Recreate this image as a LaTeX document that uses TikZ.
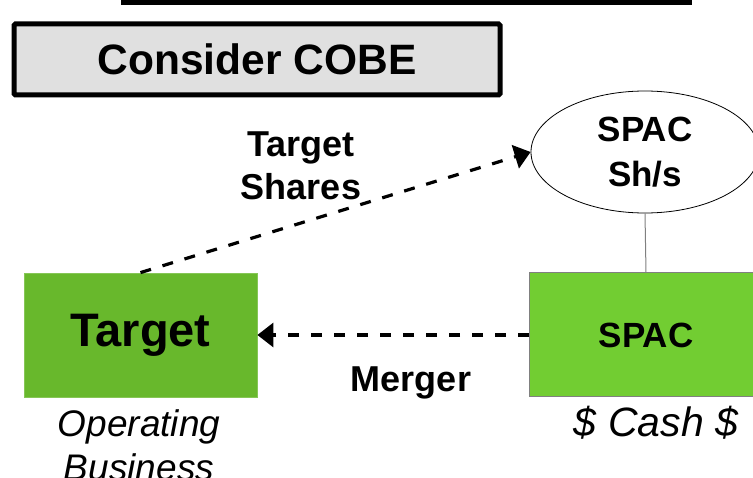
\documentclass[tikz,border=0pt]{standalone}
\usepackage{fontspec}
\setmainfont{Liberation Sans}
\usetikzlibrary{arrows.meta,shapes.geometric}
\definecolor{tgtgreen}{RGB}{104,184,44}
\definecolor{spacgreen}{RGB}{114,205,50}
\definecolor{boxgray}{RGB}{224,224,224}
\tikzset{
  bold/.style={font=\fontsize{36}{43}\selectfont\bfseries, align=center},
  ital/.style={font=\fontsize{37}{44}\selectfont\itshape, align=center},
  greenbox/.style={minimum width=233pt, minimum height=124pt, inner sep=0pt},
  flow/.style={line width=3.2pt, dash pattern=on 11pt off 12pt, -{Triangle[length=16pt,width=24pt]}},
}
\begin{document}
\begin{tikzpicture}[x=1pt,y=-1pt]
\useasboundingbox (0,0) rectangle (753,478);
\clip (0,0) rectangle (753,478);
% top bar (cut off)
\fill[black] (121,-2) rectangle (692,5);
% Consider COBE
\node[draw=black, line width=5pt, fill=boxgray, rounded corners=1.5pt, minimum width=486pt, minimum height=71pt, inner sep=0pt,
  font=\fontsize{42.5}{50}\selectfont\bfseries] (cobe) at (257,59.5) {Consider COBE};
% nodes
\node[greenbox, fill=tgtgreen, draw=tgtgreen!80!white, line width=0.8pt, font=\fontsize{47}{56}\selectfont\bfseries] (tgt) at (140.5,335) {Target};
\node[greenbox, fill=spacgreen, draw=gray, line width=1pt, bold, font=\fontsize{35}{42}\selectfont\bfseries] (spac) at (646,335) {SPAC};
\node[ellipse, draw=black, line width=0.8pt, fill=white, minimum width=228pt, minimum height=122pt, inner sep=0pt, bold, font=\fontsize{35}{45}\selectfont\bfseries] (ell) at (645,152) {SPAC\\Sh/s};
% connectors
\draw[gray, line width=1pt] (ell.south) -- (spac.north);
\draw[flow] (tgt.north) -- (ell.west);
\draw[flow] (spac.west) -- (tgt.east);
% labels
\node[bold] (lshares) at (301,166) {Target\\Shares};
\node[bold] (lmerger) at (411,383) {Merger};
\node[ital] (lop) at (139,445) {Operating\\Business};
\node[ital, font=\fontsize{41}{48}\selectfont\itshape] (lcash) at (656,423) {\$ Cash \$};
\end{tikzpicture}
\end{document}
